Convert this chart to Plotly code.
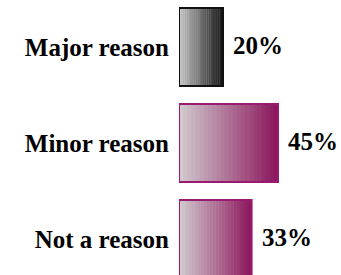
import plotly.graph_objects as go

categories = ["Major reason", "Minor reason", "Not a reason"]
values = [20, 45, 33]
value_labels = ["20%", "45%", "33%"]

# gradient styling (light -> dark, left to right)
grad_start = [(196, 196, 196), (208, 200, 204), (208, 200, 204)]
grad_end = [(24, 24, 24), (140, 24, 94), (140, 24, 94)]
outline = ["#111111", "#9a1a70", "#9a1a70"]
N = 24
FONT = "Liberation Serif, Times New Roman, serif"

def mix(a, b, t):
    return "rgb(%d,%d,%d)" % tuple(round(a[i] + (b[i] - a[i]) * t) for i in range(3))

fig = go.Figure()
for k in range(N):
    t = k / (N - 1)
    fig.add_trace(go.Bar(
        y=categories,
        x=[v / N * 1.15 for v in values] if k < N - 1 else [v / N for v in values],
        base=[v * k / N for v in values],
        orientation="h",
        width=0.8125,
        marker=dict(color=[mix(grad_start[i], grad_end[i], t) for i in range(3)],
                    line=dict(width=0)),
        hoverinfo="skip",
        showlegend=False,
    ))
fig.add_trace(go.Bar(
    y=categories,
    x=values,
    base=[0, 0, 0],
    orientation="h",
    width=0.8125,
    marker=dict(color="rgba(0,0,0,0)", line=dict(color=outline, width=2)),
    hoverinfo="skip",
    showlegend=False,
))

for c, v, lab in zip(categories, values, value_labels):
    fig.add_annotation(x=v, y=c, text="<b>%s</b>" % lab, showarrow=False, xanchor="left",
                       xshift=8, yshift=2,
                       font=dict(family=FONT, size=25, color="black"))

fig.update_layout(
    width=341, height=275,
    margin=dict(l=179, r=30, t=0, b=0, autoexpand=False),
    barmode="overlay",
    plot_bgcolor="white", paper_bgcolor="white",
    xaxis=dict(range=[0, 60], visible=False, fixedrange=True),
    yaxis=dict(range=[2.375, -0.49], showgrid=False, zeroline=False, showline=False,
               automargin=False,
               ticks="outside", ticklen=4, tickcolor="white",
               tickvals=categories, ticktext=["<b>%s</b>" % c for c in categories],
               tickfont=dict(family=FONT, size=25, color="black")),
)
fig.write_html("out.html", config={"displayModeBar": False},
               post_script="document.body.style.margin='0';")
